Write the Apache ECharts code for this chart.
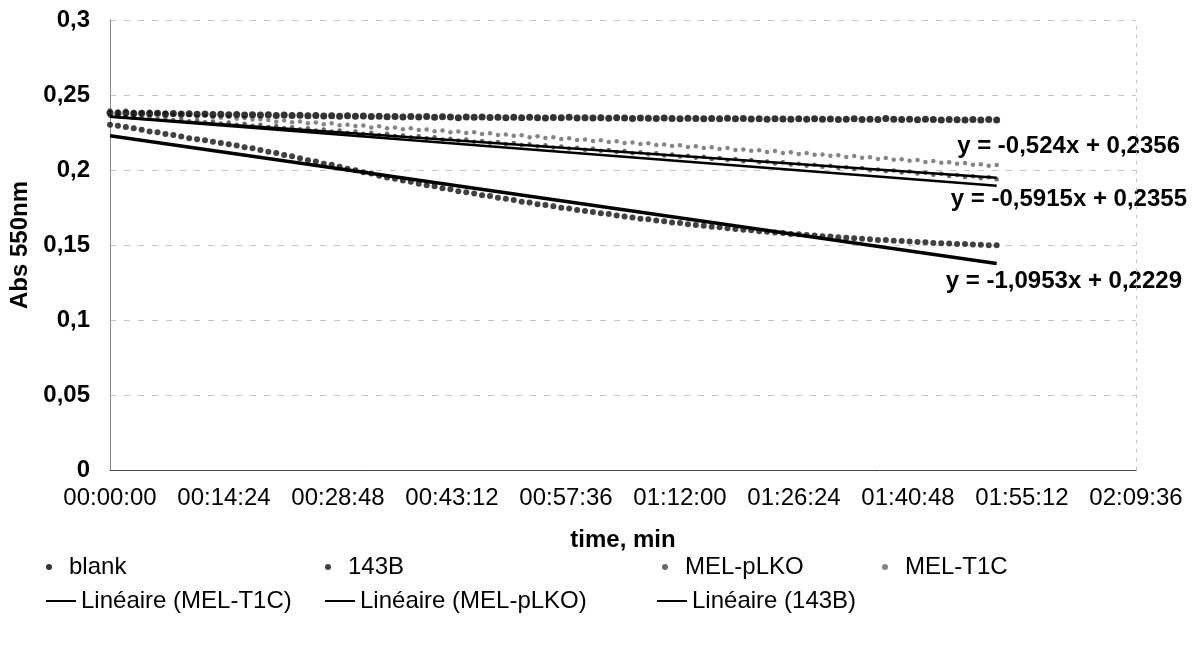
<!DOCTYPE html>
<html>
<head>
<meta charset="utf-8">
<title>Abs 550nm</title>
<script src="https://cdn.jsdelivr.net/npm/echarts@6/dist/echarts.min.js"></script>
<style>
  html, body { margin: 0; padding: 0; background: #fff; }
  #chart { width: 1196px; height: 647px; }
</style>
</head>
<body>
<div id="chart"></div>
<script>
// sampling times, minutes from start (one reading per minute)
var sampleMinutes = [
  0, 1, 2, 3, 4, 5, 6, 7, 8, 9,
  10, 11, 12, 13, 14, 15, 16, 17, 18, 19,
  20, 21, 22, 23, 24, 25, 26, 27, 28, 29,
  30, 31, 32, 33, 34, 35, 36, 37, 38, 39,
  40, 41, 42, 43, 44, 45, 46, 47, 48, 49,
  50, 51, 52, 53, 54, 55, 56, 57, 58, 59,
  60, 61, 62, 63, 64, 65, 66, 67, 68, 69,
  70, 71, 72, 73, 74, 75, 76, 77, 78, 79,
  80, 81, 82, 83, 84, 85, 86, 87, 88, 89,
  90, 91, 92, 93, 94, 95, 96, 97, 98, 99,
  100, 101, 102, 103, 104, 105, 106, 107, 108, 109,
  110, 111, 112
];

var blank = [
  0.2382, 0.2379, 0.2381, 0.2377, 0.2379, 0.2376, 0.2378, 0.2374, 0.2376, 0.2373,
  0.2375, 0.2371, 0.2373, 0.2370, 0.2372, 0.2368, 0.2370, 0.2367, 0.2369, 0.2366,
  0.2368, 0.2364, 0.2366, 0.2363, 0.2365, 0.2362, 0.2364, 0.2360, 0.2362, 0.2359,
  0.2361, 0.2358, 0.2360, 0.2356, 0.2359, 0.2355, 0.2357, 0.2354, 0.2356, 0.2353,
  0.2357, 0.2352, 0.2355, 0.2353, 0.2349, 0.2354, 0.2351, 0.2353, 0.2350, 0.2352,
  0.2349, 0.2352, 0.2348, 0.2351, 0.2349, 0.2346, 0.2350, 0.2348, 0.2351, 0.2347,
  0.2349, 0.2346, 0.2348, 0.2345, 0.2349, 0.2346, 0.2344, 0.2347, 0.2345, 0.2343,
  0.2346, 0.2344, 0.2342, 0.2345, 0.2343, 0.2341, 0.2344, 0.2342, 0.2345, 0.2341,
  0.2343, 0.2340, 0.2342, 0.2339, 0.2342, 0.2340, 0.2338, 0.2341, 0.2339, 0.2342,
  0.2338, 0.2340, 0.2337, 0.2339, 0.2341, 0.2337, 0.2339, 0.2336, 0.2343, 0.2338,
  0.2336, 0.2339, 0.2335, 0.2338, 0.2336, 0.2334, 0.2337, 0.2335, 0.2333, 0.2336,
  0.2334, 0.2337, 0.2333
];

var s143B = [
  0.2302, 0.2295, 0.2286, 0.2279, 0.2268, 0.2256, 0.2251, 0.2240, 0.2233, 0.2224,
  0.2212, 0.2205, 0.2199, 0.2188, 0.2180, 0.2171, 0.2163, 0.2152, 0.2145, 0.2133,
  0.2122, 0.2113, 0.2100, 0.2091, 0.2078, 0.2065, 0.2056, 0.2042, 0.2035, 0.2021,
  0.2008, 0.1999, 0.1985, 0.1976, 0.1962, 0.1950, 0.1941, 0.1930, 0.1922, 0.1909,
  0.1898, 0.1891, 0.1879, 0.1872, 0.1859, 0.1851, 0.1843, 0.1832, 0.1826, 0.1815,
  0.1808, 0.1800, 0.1789, 0.1784, 0.1772, 0.1767, 0.1758, 0.1749, 0.1743, 0.1734,
  0.1727, 0.1720, 0.1711, 0.1706, 0.1697, 0.1690, 0.1684, 0.1675, 0.1671, 0.1663,
  0.1658, 0.1650, 0.1647, 0.1638, 0.1634, 0.1628, 0.1621, 0.1618, 0.1611, 0.1607,
  0.1602, 0.1598, 0.1591, 0.1589, 0.1583, 0.1580, 0.1574, 0.1571, 0.1566, 0.1564,
  0.1559, 0.1557, 0.1551, 0.1549, 0.1545, 0.1541, 0.1539, 0.1534, 0.1533, 0.1528,
  0.1526, 0.1523, 0.1520, 0.1518, 0.1514, 0.1512, 0.1510, 0.1507, 0.1506, 0.1503,
  0.1502, 0.1499, 0.1498
];

var melPLKO = [
  0.2362, 0.2369, 0.2355, 0.2360, 0.2349, 0.2356, 0.2341, 0.2347, 0.2333, 0.2340,
  0.2325, 0.2331, 0.2318, 0.2324, 0.2310, 0.2317, 0.2302, 0.2309, 0.2295, 0.2301,
  0.2287, 0.2294, 0.2280, 0.2285, 0.2272, 0.2279, 0.2264, 0.2270, 0.2257, 0.2263,
  0.2249, 0.2256, 0.2242, 0.2248, 0.2234, 0.2241, 0.2226, 0.2232, 0.2219, 0.2225,
  0.2211, 0.2218, 0.2204, 0.2209, 0.2196, 0.2203, 0.2188, 0.2194, 0.2181, 0.2187,
  0.2173, 0.2180, 0.2166, 0.2171, 0.2158, 0.2165, 0.2150, 0.2156, 0.2143, 0.2149,
  0.2135, 0.2142, 0.2128, 0.2133, 0.2120, 0.2127, 0.2112, 0.2118, 0.2105, 0.2111,
  0.2097, 0.2104, 0.2090, 0.2095, 0.2082, 0.2089, 0.2074, 0.2080, 0.2067, 0.2073,
  0.2059, 0.2066, 0.2052, 0.2057, 0.2044, 0.2051, 0.2036, 0.2042, 0.2029, 0.2035,
  0.2021, 0.2028, 0.2014, 0.2019, 0.2006, 0.2013, 0.1998, 0.2004, 0.1991, 0.1997,
  0.1983, 0.1990, 0.1976, 0.1981, 0.1968, 0.1975, 0.1960, 0.1966, 0.1953, 0.1959,
  0.1945, 0.1952, 0.1938
];

var melT1C = [
  0.2398, 0.2391, 0.2396, 0.2388, 0.2384, 0.2390, 0.2377, 0.2381, 0.2369, 0.2375,
  0.2366, 0.2357, 0.2364, 0.2351, 0.2349, 0.2355, 0.2341, 0.2347, 0.2336, 0.2339,
  0.2333, 0.2322, 0.2330, 0.2318, 0.2324, 0.2311, 0.2316, 0.2305, 0.2312, 0.2298,
  0.2301, 0.2293, 0.2297, 0.2284, 0.2291, 0.2279, 0.2283, 0.2272, 0.2278, 0.2266,
  0.2270, 0.2259, 0.2264, 0.2252, 0.2257, 0.2246, 0.2251, 0.2240, 0.2245, 0.2234,
  0.2236, 0.2228, 0.2232, 0.2219, 0.2225, 0.2213, 0.2218, 0.2207, 0.2212, 0.2200,
  0.2203, 0.2194, 0.2199, 0.2186, 0.2192, 0.2180, 0.2184, 0.2173, 0.2179, 0.2166,
  0.2170, 0.2160, 0.2165, 0.2153, 0.2158, 0.2147, 0.2151, 0.2140, 0.2146, 0.2134,
  0.2137, 0.2128, 0.2132, 0.2120, 0.2126, 0.2114, 0.2118, 0.2107, 0.2113, 0.2101,
  0.2104, 0.2095, 0.2099, 0.2087, 0.2093, 0.2081, 0.2085, 0.2074, 0.2080, 0.2068,
  0.2071, 0.2062, 0.2066, 0.2054, 0.2060, 0.2048, 0.2052, 0.2041, 0.2047, 0.2035,
  0.2038, 0.2029, 0.2033
];

// Excel trendlines as printed on the chart (x in days)
var trendNames = ['Linéaire (MEL-T1C)', 'Linéaire (MEL-pLKO)', 'Linéaire (143B)'];
var trendSlopes = [-0.524, -0.5915, -1.0953];
var trendIntercepts = [0.2356, 0.2355, 0.2229];

var FONT = "'Liberation Sans', Arial, sans-serif";

function toDays(m) { return m / 1440; }
function pairs(values) {
  return values.map(function (v, i) { return [toDays(sampleMinutes[i]), v]; });
}
function comma(v) { return String(v).replace('.', ','); }
function hms(days) {
  var s = Math.round(days * 86400);
  var h = Math.floor(s / 3600), m = Math.floor((s % 3600) / 60), sec = s % 60;
  function p(n) { return (n < 10 ? '0' : '') + n; }
  return p(h) + ':' + p(m) + ':' + p(sec);
}

var xEnd = toDays(sampleMinutes[sampleMinutes.length - 1]);

var myChart = echarts.init(document.getElementById('chart'));

var series = [
  { name: 'blank', type: 'scatter', data: pairs(blank), symbolSize: 7,
    itemStyle: { color: '#000' }, z: 3 },
  { name: '143B', type: 'scatter', data: pairs(s143B), symbolSize: 6,
    itemStyle: { color: '#111' }, z: 3 },
  { name: 'MEL-pLKO', type: 'scatter', data: pairs(melPLKO), symbolSize: 4.5,
    itemStyle: { color: '#444' }, z: 2 },
  { name: 'MEL-T1C', type: 'scatter', data: pairs(melT1C), symbolSize: 4.5,
    itemStyle: { color: '#666' }, z: 2 }
];

var trendWidths = [2.5, 2.5, 3.5];
trendNames.forEach(function (name, i) {
  series.push({
    name: name,
    type: 'line',
    color: '#000',
    showSymbol: false,
    data: [
      [0, trendIntercepts[i]],
      [xEnd, trendIntercepts[i] + trendSlopes[i] * xEnd]
    ],
    lineStyle: { color: '#000', width: trendWidths[i] },
    z: 5
  });
});

var legendBase = {
  orient: 'horizontal', padding: 0, itemGap: 0,
  textStyle: { fontFamily: FONT, fontSize: 24, color: '#000', lineHeight: 26 }
};
function legendItem(name, left, top, isLine) {
  return Object.assign({}, legendBase, {
    data: [name], left: left, top: top,
    icon: isLine ? 'rect' : 'circle',
    itemWidth: 30, itemHeight: isLine ? 2 : 6
  });
}

myChart.setOption({
  animation: false,
  backgroundColor: '#fff',
  grid: { left: 110, right: 60, top: 20, bottom: 177 },
  xAxis: {
    type: 'value',
    min: 0,
    max: 0.09,
    interval: 0.01,
    name: 'time, min',
    nameLocation: 'middle',
    nameGap: 58,
    nameTextStyle: { fontFamily: FONT, fontSize: 24, fontWeight: 'bold', color: '#000' },
    axisLine: { lineStyle: { color: '#444', width: 1 } },
    axisTick: { show: false },
    axisLabel: {
      margin: 16,
      fontFamily: FONT, fontSize: 24, color: '#000',
      formatter: function (v) { return hms(v); }
    },
    splitLine: { show: false }
  },
  yAxis: [{
    type: 'value',
    min: 0,
    max: 0.3,
    interval: 0.05,
    name: 'Abs 550nm',
    nameLocation: 'middle',
    nameGap: 76,
    nameTextStyle: { fontFamily: FONT, fontSize: 24, fontWeight: 'bold', color: '#000' },
    axisLine: { show: true, lineStyle: { color: '#888', width: 1 } },
    axisTick: { show: false },
    axisLabel: {
      margin: 20,
      fontFamily: FONT, fontSize: 24, fontWeight: 'bold', color: '#000',
      formatter: function (v) { return comma(Number(v.toFixed(2))); }
    },
    splitLine: { show: true, lineStyle: { color: '#c4c4c4', width: 1, type: [6, 8] } }
  }, {
    type: 'value',
    position: 'right',
    min: 0,
    max: 0.3,
    axisLine: { show: true, lineStyle: { color: '#c4c4c4', width: 1, type: [3, 6] } },
    axisTick: { show: false },
    axisLabel: { show: false },
    splitLine: { show: false }
  }],
  legend: [
    legendItem('blank', 46, 554, false),
    legendItem('143B', 325, 554, false),
    legendItem('MEL-pLKO', 662, 554, false),
    legendItem('MEL-T1C', 882, 554, false),
    legendItem(trendNames[0], 46, 588, true),
    legendItem(trendNames[1], 325, 588, true),
    legendItem(trendNames[2], 657, 588, true)
  ],
  graphic: [
    { type: 'text', right: 16, top: 134,
      style: { text: 'y = ' + comma(trendSlopes[0]) + 'x + ' + comma(trendIntercepts[0]),
               font: 'bold 24px ' + FONT, fill: '#000' } },
    { type: 'text', right: 9, top: 187,
      style: { text: 'y = ' + comma(trendSlopes[1]) + 'x + ' + comma(trendIntercepts[1]),
               font: 'bold 24px ' + FONT, fill: '#000' } },
    { type: 'text', right: 14, top: 269,
      style: { text: 'y = ' + comma(trendSlopes[2]) + 'x + ' + comma(trendIntercepts[2]),
               font: 'bold 24px ' + FONT, fill: '#000' } }
  ],
  series: series
});
</script>
</body>
</html>
